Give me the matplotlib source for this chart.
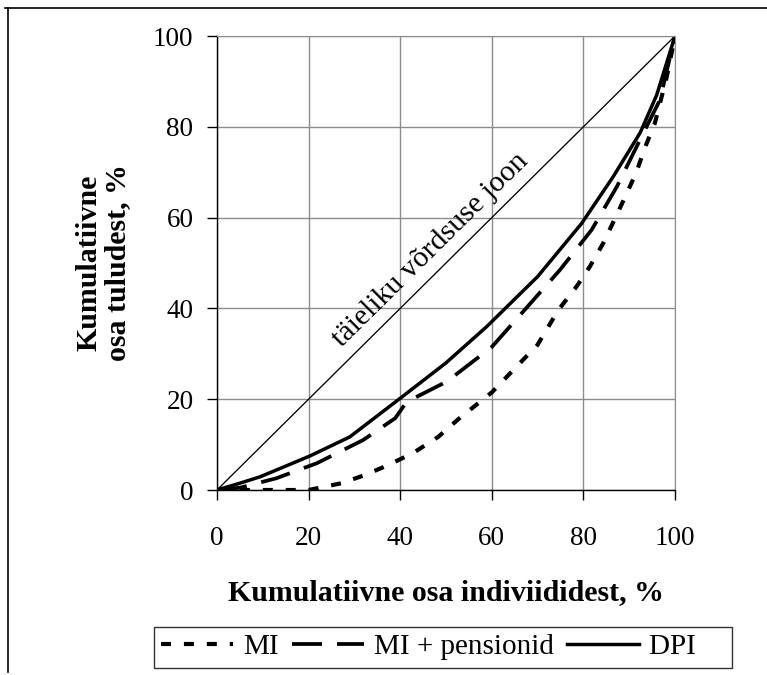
import matplotlib
matplotlib.use("Agg")
import matplotlib.pyplot as plt
from matplotlib.lines import Line2D

# Data
eq_x = [0, 100]
eq_y = [0, 100]

mi_x = [0, 10, 20, 27.2, 32.3, 37.4, 42.9, 48.3, 52.7, 60, 70, 74.5, 78.5, 81.4, 84.3, 86.9, 89.5, 91.6, 93.4, 95.6, 98.2, 100]
mi_y = [0, 0, 0, 1.5, 3.3, 5.5, 8.2, 11.7, 15.6, 21.5, 32, 39.6, 44.8, 49.2, 54.3, 59.8, 65.4, 70.1, 75.3, 80.8, 91, 100]

mip_x = [0, 5, 13, 21.8, 31.9, 38.9, 41.4, 50.2, 60, 66.5, 74.9, 81.8, 87.3, 92, 96.7, 100]
mip_y = [0, 0.5, 2.6, 5.9, 11, 15.8, 19.4, 23.9, 31.5, 38.9, 48.5, 57.3, 66.8, 76.4, 85.9, 100]

dpi_x = [0, 5, 9.4, 20.3, 29, 40, 50, 58.9, 70, 79.6, 86.5, 92.4, 96, 100]
dpi_y = [0, 1.5, 2.9, 7.5, 11.7, 20.2, 28, 36, 47, 58.7, 69, 78.7, 87, 100]

ticks = [0, 20, 40, 60, 80, 100]
labels = ["MI", "MI + pensionid", "DPI    "]

plt.rcParams['font.family'] = ['Liberation Serif', 'DejaVu Serif']

fig = plt.figure(figsize=(7.67, 6.75), dpi=100)
ax = fig.add_axes([217/767, 1-490/675, (675-217)/767, (490-36)/675])

ax.plot(eq_x, eq_y, color='black', lw=0.95)
l1, = ax.plot(mi_x, mi_y, color='black', lw=3.0, dashes=(2.4, 3.1), dash_capstyle='butt')
l2, = ax.plot(mip_x, mip_y, color='black', lw=2.7, dashes=(8.0, 4.0), dash_capstyle='butt')
l3, = ax.plot(dpi_x, dpi_y, color='black', lw=2.5)

ax.set_xlim(0, 100)
ax.set_ylim(0, 100)
ax.set_xticks(ticks)
ax.set_yticks(ticks)
ax.grid(True, color='#8c8c8c', lw=1)
ax.set_axisbelow(True)
for s in ['top', 'right']:
    ax.spines[s].set_color('#8c8c8c')
for s in ['left', 'bottom']:
    ax.spines[s].set_color('black')
    ax.spines[s].set_linewidth(1)
ax.tick_params(axis='y', direction='out', length=7, width=1, pad=10, labelsize=19.5)
ax.tick_params(axis='x', direction='out', length=7, width=1, pad=19, labelsize=19.5)

ax.text(47.6, 51.8, "täieliku võrdsuse joon", rotation=44.7, rotation_mode='anchor',
        ha='center', va='baseline', fontsize=21.5)

ax.set_xlabel("Kumulatiivne osa indiviididest, %", fontsize=21.5, fontweight='bold', labelpad=20)
ax.set_ylabel("Kumulatiivne\nosa tuludest, %", fontsize=21.5, fontweight='bold', labelpad=16,
              linespacing=1.05)

leg = fig.legend([l1, l2, l3], labels, loc='center left', bbox_to_anchor=(154/767, 1-647/675),
                 ncol=3, fontsize=21, frameon=True, fancybox=False, handlelength=2.47,
                 handletextpad=0.34, columnspacing=0.45, borderpad=0.25, borderaxespad=0)
leg.get_frame().set_edgecolor('black')
leg.get_frame().set_linewidth(1)

# outer frame (top and left edges)
fig.add_artist(Line2D([5/767, 1], [1-8/675, 1-8/675], color='black', lw=1.2, transform=fig.transFigure))
fig.add_artist(Line2D([8/767, 8/767], [1-8/675, 1-672/675], color='black', lw=1.2, transform=fig.transFigure))

fig.savefig("out.png", dpi=100)
